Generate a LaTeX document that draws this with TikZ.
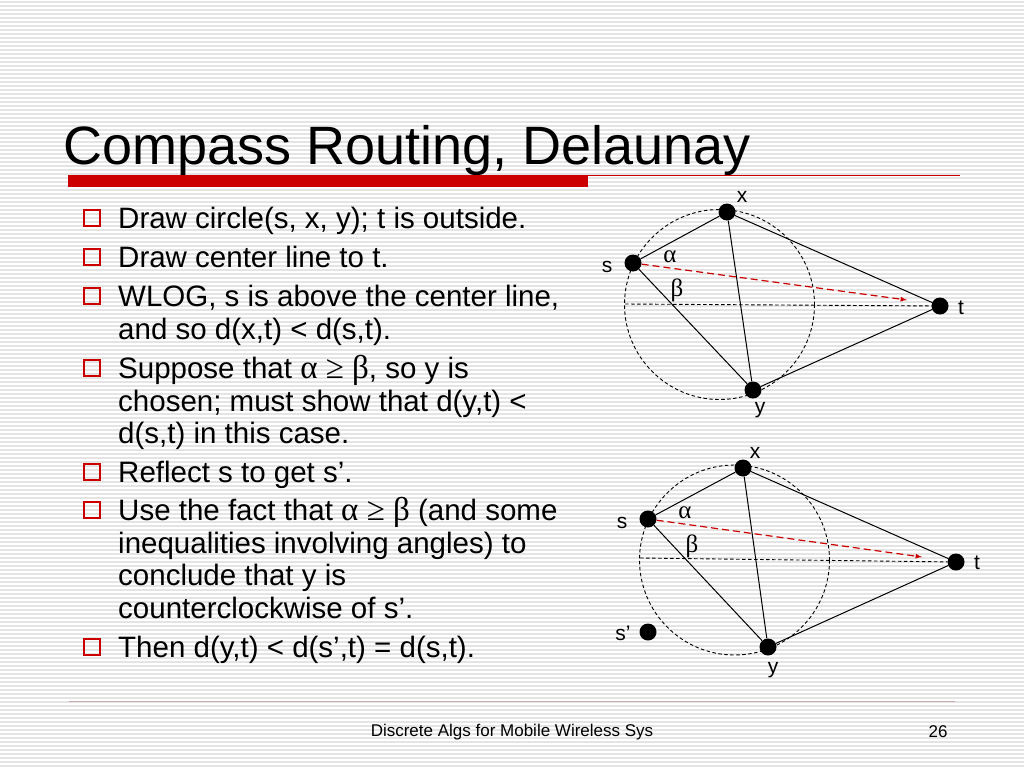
\documentclass[tikz,border=0pt]{standalone}
\usepackage{fontspec}
\setmainfont{Liberation Sans}
\newfontfamily\grkfont{Liberation Serif}
\usepackage{tikz}
\usetikzlibrary{positioning}
\definecolor{slidered}{RGB}{204,0,0}
\definecolor{stripegray}{RGB}{228,228,228}
\definecolor{footline}{RGB}{205,175,175}
\newcommand{\grk}[1]{{\grkfont\fontsize{33}{32}\selectfont #1}}
\tikzset{
	dotnode/.style={circle, fill=black, minimum size=17pt, inner sep=0pt},
	labnode/.style={inner sep=0pt, font=\fontsize{21}{21}\selectfont},
	greeknode/.style={inner sep=0pt, font=\grkfont\fontsize{25}{25}\selectfont},
	bulletbox/.style={rectangle, draw=slidered, line width=2.4pt, minimum size=16pt, inner sep=0pt},
	bodytext/.style={anchor=base west, inner sep=0pt, font=\fontsize{29.5}{32}\selectfont},
	circdash/.style={dash pattern=on 3.5pt off 2.5pt},
	reddash/.style={dash pattern=on 7pt off 4pt}
}

\begin{document}
\begin{tikzpicture}[x=1pt, y=-1pt]
		\useasboundingbox (0,0) rectangle (1024,768);
		\fill[white] (0,0) rectangle (1024,768);
		\foreach \i in {0,...,191}
			\draw[stripegray, line width=1.6pt] (0,4*\i+2) -- (1024,4*\i+2);
		
		% title
		\node[anchor=base west, inner sep=0pt, font=\fontsize{54}{54}\selectfont] at (63,164) (title) {Compass Routing, Delaunay};
		\fill[slidered] (68,175) rectangle (588,187);
		\draw[slidered, line width=1pt] (588,175.5) -- (960,175.5);
		
		% bullets
		\node[bulletbox] at (92,218) (b1) {};
		\node[bulletbox] at (92,257) (b2) {};
		\node[bulletbox] at (92,296) (b3) {};
		\node[bulletbox] at (92,368) (b4) {};
		\node[bulletbox] at (92,472) (b5) {};
		\node[bulletbox] at (92,510) (b6) {};
		\node[bulletbox] at (92,647) (b7) {};
		
		\node[bodytext] at (118,228) (p1) {Draw circle(s, x, y); t is outside.};
		\node[bodytext] at (118,267) (p2) {Draw center line to t.};
		\node[bodytext] at (118,306) (p3a) {WLOG, s is above the center line,};
		\node[bodytext] at (118,339) (p3b) {and so d(x,t) < d(s,t).};
		\node[bodytext] at (118,378) (p4a) {Suppose that \grk{α ≥ β}, so y is};
		\node[bodytext] at (118,411) (p4b) {chosen; must show that d(y,t) <};
		\node[bodytext] at (118,443) (p4c) {d(s,t) in this case.};
		\node[bodytext] at (118,482) (p5) {Reflect s to get s’.};
		\node[bodytext] at (118,520) (p6a) {Use the fact that \grk{α ≥ β} (and some};
		\node[bodytext] at (118,553) (p6b) {inequalities involving angles) to};
		\node[bodytext] at (118,585) (p6c) {conclude that y is};
		\node[bodytext] at (118,618) (p6d) {counterclockwise of s’.};
		\node[bodytext] at (118,657) (p7) {Then d(y,t) < d(s’,t) = d(s,t).};
		
		% upper figure
		\node[dotnode] at (633,263) (s1) {};
		\node[dotnode] at (727,212) (x1) {};
		\node[dotnode] at (940,306) (t1) {};
		\node[dotnode] at (753,390) (y1) {};
		\coordinate (c1) at (719.5,304.5);
		\coordinate (cl1) at (625,304);
		\coordinate (a1) at (907,300);
		
		\draw[circdash, line width=0.9pt] (c1) circle (95);
		\draw[circdash, line width=0.9pt] (cl1) -- (t1);
		\draw[line width=1pt] (s1) -- (x1);
		\draw[line width=1pt] (s1) -- (y1);
		\draw[line width=1pt] (x1) -- (y1);
		\draw[line width=1pt] (x1) -- (t1);
		\draw[line width=1pt] (y1) -- (t1);
		\draw[-latex, slidered, reddash, line width=1.2pt] (s1) -- (a1);
		
		\node[labnode] at (742,197) (xl1) {x};
		\node[labnode] at (607,267) (sl1) {s};
		\node[labnode] at (961,308) (tl1) {t};
		\node[labnode] at (760,410) (yl1) {y};
		\node[greeknode] at (670,257) (al1) {α};
		\node[greeknode] at (677,290) (be1) {β};
		
		% lower figure
		\node[dotnode] at (648,519) (s2) {};
		\node[dotnode] at (743,468) (x2) {};
		\node[dotnode] at (956,562) (t2) {};
		\node[dotnode] at (768,647) (y2) {};
		\node[dotnode] at (648,632) (sp2) {};
		\coordinate (c2) at (734.5,560);
		\coordinate (cl2) at (640,558);
		\coordinate (a2) at (922,557);
		
		\draw[circdash, line width=0.9pt] (c2) circle (95);
		\draw[circdash, line width=0.9pt] (cl2) -- (t2);
		\draw[line width=1pt] (s2) -- (x2);
		\draw[line width=1pt] (s2) -- (y2);
		\draw[line width=1pt] (x2) -- (y2);
		\draw[line width=1pt] (x2) -- (t2);
		\draw[line width=1pt] (y2) -- (t2);
		\draw[-latex, slidered, reddash, line width=1.2pt] (s2) -- (a2);
		
		\node[labnode] at (755,453) (xl2) {x};
		\node[labnode] at (622,523) (sl2) {s};
		\node[labnode] at (977,563) (tl2) {t};
		\node[labnode] at (773,670) (yl2) {y};
		\node[labnode] at (623,633) (spl2) {s’};
		\node[greeknode] at (685,513) (al2) {α};
		\node[greeknode] at (692,546) (be2) {β};
		
		% footer
		\draw[footline, line width=1pt] (69,701) -- (955,701);
		\node[inner sep=0pt, font=\fontsize{17}{17}\selectfont] at (512,732) (foot) {Discrete Algs for Mobile Wireless Sys};
		\node[inner sep=0pt, font=\fontsize{17}{17}\selectfont] at (938,732) (pnum) {26};
	\end{tikzpicture}
\end{document}
